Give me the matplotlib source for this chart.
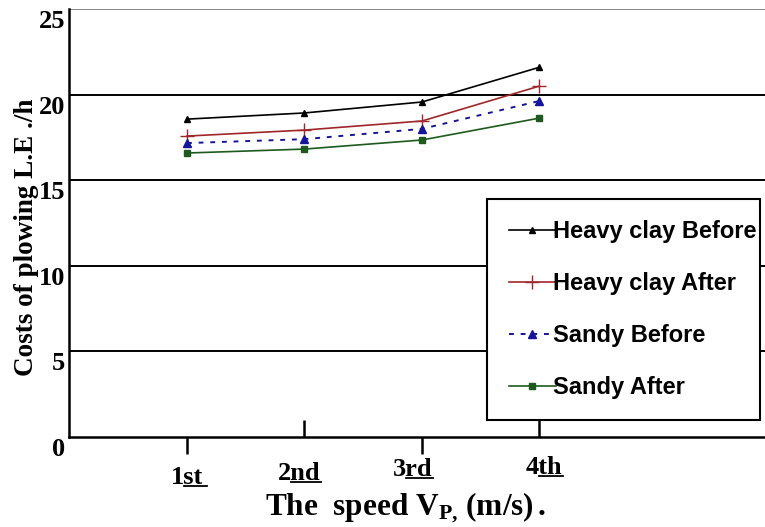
import matplotlib
matplotlib.use("Agg")
import matplotlib.pyplot as plt
import matplotlib.transforms as mtransforms
from matplotlib.lines import Line2D

speeds = [1, 2, 3, 4]
speed_nums = ['1', '2', '3', '4']
speed_suffix = ['st', 'nd', 'rd', 'th']
label_drop = [41, 37, 33, 31]     # px below the axis for each tick label
label_nudge = [0, -5, -9, 5]      # px sideways for each tick label

heavy_before = [18.57, 18.93, 19.57, 21.6]
heavy_after = [17.58, 17.93, 18.46, 20.5]
sandy_before = [17.17, 17.4, 18.0, 19.63]
sandy_after = [16.59, 16.82, 17.35, 18.63]

y_ticks = [0, 5, 10, 15, 20, 25]

plt.rcParams['mathtext.fontset'] = 'custom'
plt.rcParams['mathtext.rm'] = 'Liberation Serif:bold'
plt.rcParams['mathtext.it'] = 'Liberation Serif:bold'
plt.rcParams['mathtext.bf'] = 'Liberation Serif:bold'

serif = dict(fontfamily='Liberation Serif', fontweight='bold')

fig = plt.figure(figsize=(7.65, 5.27), dpi=100)
ax = fig.add_axes([0.0908, 0.1708, 0.9092, 0.812])

ax.plot(speeds, heavy_before, color='black', lw=1.2, marker='^', ms=5,
        label='Heavy clay Before')
ax.plot(speeds, heavy_after, color='#a0262a', lw=1.2, marker='+', ms=10,
        label='Heavy clay After')
ax.plot(speeds, sandy_before, color='#1414a0', lw=1.4, ls=(0, (2.5, 3.5)),
        marker='^', ms=6, label='Sandy Before')
ax.plot(speeds, sandy_after, color='#1e5a1e', lw=1.2, marker='s', ms=4,
        label='Sandy After')

ax.set_xlim(0, 5.92)
ax.set_ylim(0, 25)
for v in y_ticks[1:]:
    ax.axhline(v, color='black' if v < 25 else '#888888', lw=1.4, zorder=0)

for s in ['top', 'right']:
    ax.spines[s].set_visible(False)
ax.spines['left'].set_linewidth(1.8)
ax.spines['bottom'].set_linewidth(1.8)

ax.set_yticks(y_ticks)
ax.set_yticklabels([str(v) for v in y_ticks], fontsize=19, **serif)
ax.tick_params(axis='y', length=0, pad=3)
shift = mtransforms.ScaledTranslation(0, -10 / 100, fig.dpi_scale_trans)
for lab in ax.get_yticklabels():
    lab.set_transform(lab.get_transform() + shift)

# odd ticks point down, even ticks point up
ax.set_xticks([1, 3])
ax.set_xticks([2, 4], minor=True)
ax.tick_params(axis='x', which='major', direction='out', length=12, width=1.8,
               labelbottom=False)
ax.tick_params(axis='x', which='minor', direction='in', length=12, width=1.8,
               labelbottom=False)
xlabels = []
for x, n, suf, d, dx in zip(speeds, speed_nums, speed_suffix, label_drop,
                            label_nudge):
    t = mtransforms.blended_transform_factory(ax.transData, ax.transAxes)
    t = t + mtransforms.ScaledTranslation(dx / 100, -d / 100,
                                          fig.dpi_scale_trans)
    txt = ax.text(x, 0, n + suf, transform=t, ha='center', va='center',
                  fontsize=19, **serif)
    xlabels.append((txt, suf))

ax.set_ylabel('Costs of plowing L.E ./h', fontsize=19.5, **serif)
ax.yaxis.set_label_coords(-0.044, 0.466)
fig.text(0.53, 0.036, r'The  speed V$_{\mathrm{P,}}\,$(m/s)$\,$.',
         fontsize=22.5, ha='center', va='center', **serif)

leg = ax.legend(loc='lower left', bbox_to_anchor=(0.637, 0.203, 0.356, 0.421),
                bbox_transform=fig.transFigure, mode='expand', fancybox=False,
                edgecolor='black', framealpha=1, handlelength=2.0,
                handletextpad=-0.1, labelspacing=1.22, borderaxespad=0,
                borderpad=0.9, prop={'family': 'Liberation Sans',
                                     'weight': 'bold', 'size': 17})
leg.get_frame().set_linewidth(1.5)

# underline the ordinal suffixes
fig.canvas.draw()
r = fig.canvas.get_renderer()
W, H = fig.bbox.width, fig.bbox.height
for txt, suf in xlabels:
    bb = txt.get_window_extent(r)
    tmp = fig.text(0, 0, suf, fontsize=19, **serif)
    sw = tmp.get_window_extent(r).width
    tmp.remove()
    x0 = bb.x1 - sw
    x1 = bb.x1 + (4 if suf == 'st' else 0)
    y = bb.y0 + 3
    fig.add_artist(Line2D([x0 / W, x1 / W], [y / H, y / H], color='black',
                          lw=1.3, transform=fig.transFigure))

fig.savefig('out.png', dpi=100)
